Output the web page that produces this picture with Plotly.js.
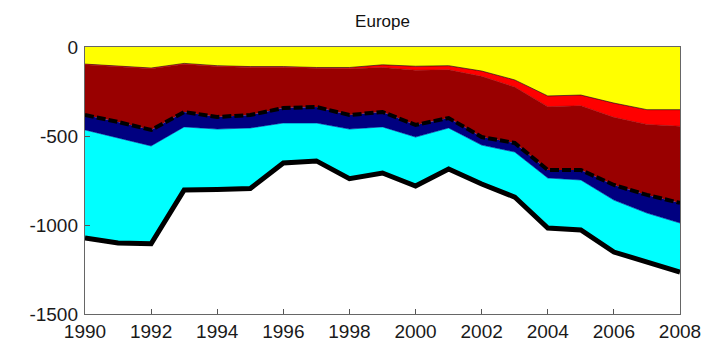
<!DOCTYPE html>
<html>
<head>
<meta charset="utf-8">
<script src="https://cdn.plot.ly/plotly-3.0.1.min.js"></script>
<style>html,body{margin:0;padding:0;background:#fff;}#chart{width:711px;height:343px;}</style>
</head>
<body>
<div id="chart"></div>
<script>
// Years
const years = [1990,1991,1992,1993,1994,1995,1996,1997,1998,1999,2000,2001,2002,2003,2004,2005,2006,2007,2008];
// Stacked layers (negative contributions), top to bottom
const yellowLayer  = [-96,-105,-118,-92,-105,-110,-110,-115,-115,-100,-108,-105,-135,-185,-275,-270,-315,-352,-352];
const redLayer     = [-4,-5,-4,-5,-5,-5,-5,-5,-7,-15,-22,-23,-30,-40,-60,-60,-80,-83,-93];
const darkRedLayer = [-282,-311,-344,-268,-283,-267,-228,-217,-260,-250,-308,-271,-341,-314,-356,-361,-380,-396,-431];
const navyLayer    = [-84,-89,-90,-84,-68,-73,-84,-90,-79,-84,-68,-56,-45,-51,-45,-56,-85,-102,-113];
const cyanLayer    = [-607,-591,-549,-354,-339,-340,-225,-213,-279,-259,-275,-230,-219,-253,-281,-281,-292,-275,-275];
// Tick labels
const xTickVals = [1990,1992,1994,1996,1998,2000,2002,2004,2006,2008];
const xTickText = ["1990","1992","1994","1996","1998","2000","2002","2004","2006","2008"];
const yTickVals = [0,-500,-1000,-1500];
const yTickText = ["0","-500","-1000","-1500"];

const thin = {color:'#000', width:0.6};
const traces = [
  {x:years, y:yellowLayer, stackgroup:'s', fillcolor:'#ffff00', line:thin, mode:'lines'},
  {x:years, y:redLayer, stackgroup:'s', fillcolor:'#ff0000', line:{color:'#aa0000',width:0.6}, mode:'lines'},
  {x:years, y:darkRedLayer, stackgroup:'s', fillcolor:'#990000', line:{color:'#000',width:4,dash:'9px,3px'}, mode:'lines'},
  {x:years, y:navyLayer, stackgroup:'s', fillcolor:'#000080', line:{color:'#000080',width:0.6}, mode:'lines'},
  {x:years, y:cyanLayer, stackgroup:'s', fillcolor:'#00ffff', line:{color:'#000',width:5}, mode:'lines'}
];

const font = {family:'Liberation Sans, Arial, sans-serif', size:19, color:'#1a1a1a'};
const layout = {
  width:711, height:343,
  margin:{l:85, r:31, t:47, b:29},
  paper_bgcolor:'#fff', plot_bgcolor:'#fff',
  showlegend:false,
  title:{text:'Europe', font:{family:'Liberation Sans, Arial, sans-serif', size:17, color:'#111'}, x:0.538, xanchor:'center', y:0.94, yanchor:'middle'},
  xaxis:{range:[1990,2008], tickvals:xTickVals, ticktext:xTickText, ticks:'inside', ticklen:5, tickcolor:'#555',
         showline:true, linecolor:'#666', linewidth:1.2, mirror:true, showgrid:false, zeroline:false, tickfont:font, ticklabelstandoff:0},
  yaxis:{range:[-1500,0], tickvals:yTickVals, ticktext:yTickText, ticks:'inside', ticklen:5, tickcolor:'#555',
         showline:true, linecolor:'#666', linewidth:1.2, mirror:true, showgrid:false, zeroline:false, tickfont:font, ticklabelstandoff:2}
};
Plotly.newPlot('chart', traces, layout, {displayModeBar:false, staticPlot:true});
</script>
</body>
</html>
